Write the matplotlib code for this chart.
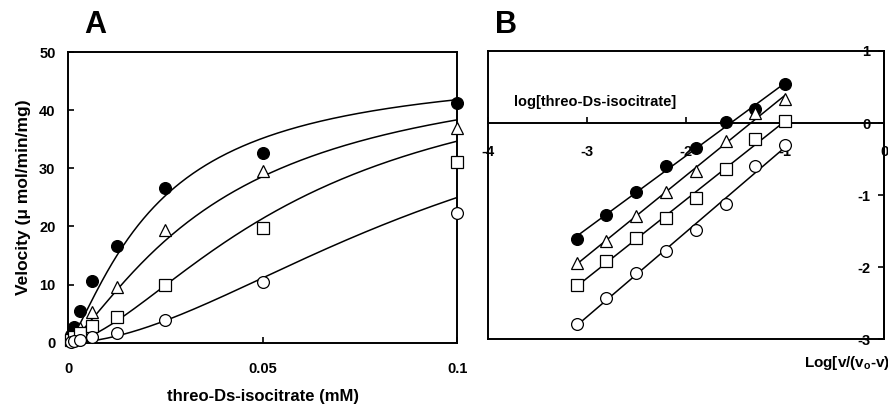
import numpy as np
import matplotlib
matplotlib.use('Agg')
import matplotlib.pyplot as plt

plt.rcParams['font.family'] = ['Liberation Sans', 'DejaVu Sans']
plt.rcParams['font.weight'] = 'bold'
plt.rcParams['axes.unicode_minus'] = False
plt.rcParams['mathtext.default'] = 'regular'

# ================================
# Data
# ================================

# substrate concentrations, mM (halving series)
conc = [0.00078125, 0.0015625, 0.003125, 0.00625, 0.0125, 0.025, 0.05, 0.1]

# panel A: velocity (umol/min/mg)
vel_filled = [1.3, 2.7, 5.5, 10.7, 16.7, 26.6, 32.6, 41.3]
vel_tri = [0.6, 1.2, 2.5, 5.3, 9.6, 19.4, 29.6, 36.9]
vel_sq = [0.4, 0.9, 1.6, 2.8, 4.4, 10.0, 19.8, 31.1]
vel_open = [0.2, 0.3, 0.5, 1.0, 1.7, 3.9, 10.4, 22.3]

# fitted curves (Hill): Vmax, K, n for each series
hill_vmax = [48, 50, 50, 50]
hill_k = [0.023, 0.04, 0.06, 0.1]
hill_n = [1.3, 1.3, 1.6, 1.8]

# panel B: log[v/(vo-v)]
logr_filled = [-1.61, -1.27, -0.96, -0.60, -0.34, 0.01, 0.19, 0.54]
logr_tri = [-1.94, -1.63, -1.29, -0.96, -0.67, -0.25, 0.14, 0.33]
logr_sq = [-2.25, -1.91, -1.59, -1.31, -1.04, -0.64, -0.22, 0.03]
logr_open = [-2.79, -2.42, -2.08, -1.77, -1.48, -1.12, -0.60, -0.30]

xticks_a = [0, 0.05, 0.1]
xticklabels_a = ['0', '0.05', '0.1']
yticks_a = [0, 10, 20, 30, 40, 50]
xticks_b = [-4, -3, -2, -1, 0]
yticks_b = [-3, -2, -1, 0, 1]

# ================================
# Styles
# ================================
styles = [
    dict(marker='o', mfc='black', ms=8.5),
    dict(marker='^', mfc='white', ms=9),
    dict(marker='s', mfc='white', ms=8.5),
    dict(marker='o', mfc='white', ms=8.5),
]

fig = plt.figure(figsize=(8.88, 4.08), dpi=100)

# ---------- Panel A ----------
axA = fig.add_axes([0.0766, 0.160, 0.4386, 0.7125])
xs = np.linspace(0, 0.1, 300)
for i, v in enumerate([vel_filled, vel_tri, vel_sq, vel_open]):
    vmax, k, n = hill_vmax[i], hill_k[i], hill_n[i]
    curve = vmax * xs**n / (k**n + xs**n)
    axA.plot(xs, curve, color='black', lw=1.1, zorder=2)
    axA.plot(conc, v, ls='none', mec='black', mew=0.9, zorder=3,
             clip_on=False, **styles[i])

axA.set_xlim(0, 0.1)
axA.set_ylim(0, 50)
axA.set_xticks(xticks_a)
axA.set_xticklabels(xticklabels_a)
axA.set_yticks(yticks_a)
axA.tick_params(direction='in', length=4, width=1.2, labelsize=10.5)
axA.tick_params(axis='x', pad=14)
axA.tick_params(axis='y', pad=9)
for s in axA.spines.values():
    s.set_linewidth(1.4)
axA.set_xlabel('threo-Ds-isocitrate (mM)', fontsize=12, fontweight='bold', labelpad=9)
axA.set_ylabel('Velocity (\u03bc mol/min/mg)', fontsize=12.5, fontweight='bold', labelpad=6)
fig.text(95 / 888, 1 - 25 / 408, 'A', fontsize=22, fontweight='bold',
         ha='center', va='center')

# ---------- Panel B ----------
posB = [0.5499, 0.168, 0.4459, 0.707]
frame = fig.add_axes(posB, zorder=0)
frame.set_xticks([])
frame.set_yticks([])
for s in frame.spines.values():
    s.set_linewidth(1.4)

axB = fig.add_axes(posB, zorder=1)
axB.patch.set_alpha(0)
xb = np.log10(conc)
for i, r in enumerate([logr_filled, logr_tri, logr_sq, logr_open]):
    slope, icpt = np.polyfit(xb, r, 1)
    xl = np.array([xb[0], xb[-1]])
    axB.plot(xl, slope * xl + icpt, color='black', lw=1.1, zorder=2)
    axB.plot(xb, r, ls='none', mec='black', mew=0.9, zorder=3, **styles[i])

axB.set_xlim(-4, 0)
axB.set_ylim(-3, 1)
axB.spines['bottom'].set_position(('data', 0))
axB.spines['top'].set_visible(False)
axB.spines['left'].set_visible(False)
axB.spines['bottom'].set_linewidth(1.4)
axB.spines['right'].set_linewidth(1.4)
axB.set_xticks(xticks_b)
axB.set_xticklabels([str(t) for t in xticks_b])
axB.yaxis.tick_right()
axB.set_yticks(yticks_b)
axB.set_yticklabels([str(t) for t in yticks_b])
axB.tick_params(direction='in', length=4, width=1.2, labelsize=10.5)
axB.tick_params(axis='x', pad=16)
axB.tick_params(axis='y', pad=-10)
for lab in axB.get_yticklabels():
    lab.set_horizontalalignment('right')
for lab in axB.get_xticklabels() + axB.get_yticklabels():
    lab.set_clip_on(False)

axB.text(514 / 888, 1 - 102 / 408, 'log[threo-Ds-isocitrate]', transform=fig.transFigure,
         fontsize=10.5, fontweight='bold', ha='left', va='center')
axB.text(804 / 888, 1 - 363 / 408, 'Log[v/(v$_{o}$-v)]', transform=fig.transFigure,
         fontsize=11, fontweight='bold', ha='left', va='center')
fig.text(506 / 888, 1 - 25 / 408, 'B', fontsize=22, fontweight='bold',
         ha='center', va='center')

fig.savefig('out.png', dpi=100)
